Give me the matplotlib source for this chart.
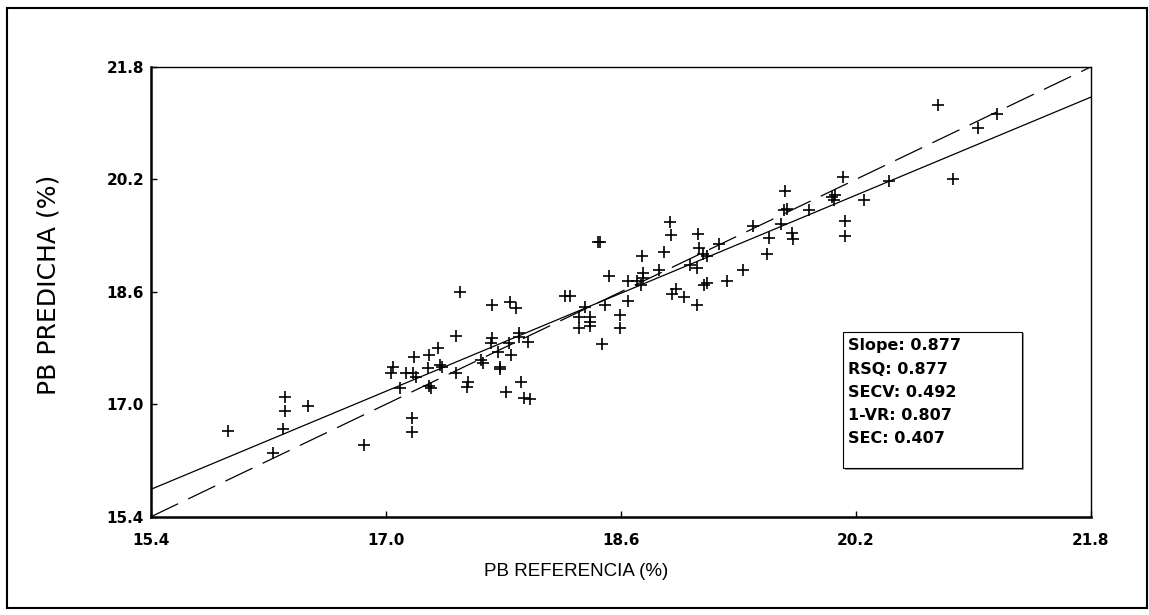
import matplotlib
matplotlib.use("Agg")
import matplotlib.pyplot as plt
from matplotlib.patches import Rectangle
import numpy as np

# values
pb_ref = [15.925, 16.314, 16.314, 16.30, 16.469, 16.23, 16.848, 17.176, 17.176, 17.046,
          17.035, 17.194, 17.292, 17.353, 17.137, 17.182, 17.206, 17.285, 17.365, 17.383,
          17.096, 17.296, 17.308, 17.478, 17.478, 17.506, 17.558, 17.551, 17.649, 17.66,
          17.721, 17.724, 17.717, 17.762, 17.779, 17.774, 17.842, 17.888, 17.837, 17.854,
          17.905, 17.905, 17.967, 17.922, 17.82, 17.938, 17.978, 18.217, 18.251, 18.315,
          18.315, 18.354, 18.388, 18.388, 18.388, 18.444, 18.461, 18.474, 18.49, 18.519,
          18.597, 18.597, 18.649, 18.649, 18.71, 18.747, 18.751, 18.751, 18.74, 18.86,
          18.892, 18.933, 18.94, 18.945, 18.974, 19.029, 19.07, 19.116, 19.116, 19.127,
          19.133, 19.157, 19.184, 19.165, 19.184, 19.27, 19.32, 19.429, 19.498, 19.597,
          19.611, 19.689, 19.718, 19.708, 19.732, 19.766, 19.775, 19.884, 20.036, 20.059,
          20.054, 20.111, 20.129, 20.129, 20.257, 20.424, 20.76, 20.859, 21.032, 21.162]
pb_pred = [16.626, 17.10, 16.91, 16.646, 16.977, 16.313, 16.423, 16.81, 16.603, 17.535,
           17.45, 17.677, 17.70, 17.796, 17.45, 17.45, 17.393, 17.512, 17.559, 17.535,
           17.228, 17.261, 17.228, 17.975, 17.45, 18.592, 17.322, 17.251, 17.63, 17.592,
           18.411, 17.938, 17.867, 17.748, 17.535, 17.498, 18.45, 18.364, 17.867, 17.70,
           18.009, 17.953, 17.89, 17.322, 17.18, 17.086, 17.072, 18.539, 18.546, 18.245,
           18.08, 18.387, 18.245, 18.174, 18.113, 19.311, 19.311, 17.853, 18.411, 18.823,
           18.269, 18.08, 18.752, 18.468, 18.752, 19.107, 18.862, 18.791, 18.695, 18.909,
           19.16, 19.595, 19.416, 18.568, 18.634, 18.529, 18.98, 18.933, 18.411, 19.43,
           19.217, 19.136, 19.107, 18.695, 18.728, 19.278, 18.757, 18.909, 19.541, 19.132,
           19.373, 19.562, 20.031, 19.768, 19.782, 19.438, 19.359, 19.771, 19.95, 19.974,
           19.903, 20.237, 19.605, 19.391, 19.903, 20.183, 21.262, 20.211, 20.93, 21.134]

line_x = [15.4, 21.8]
fit_y = [15.79, 21.37]      # regression line
ideal_y = [15.4, 21.8]      # 1:1 line

ticks = [15.4, 17.0, 18.6, 20.2, 21.8]
tick_labels = ["15.4", "17.0", "18.6", "20.2", "21.8"]
stats = ["Slope: 0.877", "RSQ: 0.877", "SECV: 0.492", "1-VR: 0.807", "SEC: 0.407"]

fig = plt.figure(figsize=(11.49, 6.15), dpi=100)
ax = fig.add_axes([0.1314, 0.1598, 0.8179, 0.7313])

# outer frame
fig.patches.append(Rectangle((0.0061, 0.012), 0.9918, 0.975, transform=fig.transFigure,
                             fill=False, edgecolor="black", linewidth=1.5))

ax.plot(line_x, fit_y, color="black", linewidth=0.9)
ax.plot(line_x, ideal_y, color="black", linewidth=0.9, dashes=(24, 9))
ax.plot(pb_ref, pb_pred, "+", color="black", markersize=8.5, markeredgewidth=1.2, linestyle="none")

ax.set_xlim(15.4, 21.8)
ax.set_ylim(15.4, 21.8)
ax.set_xticks(ticks)
ax.set_yticks(ticks)
ax.set_xticklabels(tick_labels, fontsize=11, fontweight="bold", family="DejaVu Sans")
ax.set_yticklabels(tick_labels, fontsize=11, fontweight="bold", family="DejaVu Sans")
ax.tick_params(axis="both", direction="in", length=4, width=1, colors="black")
ax.tick_params(axis="x", pad=12)
ax.tick_params(axis="y", pad=5)
for side in ["top", "right"]:
    ax.spines[side].set_linewidth(1)
for side in ["left", "bottom"]:
    ax.spines[side].set_linewidth(1.8)

fig.text(0.5013, 0.0704, "PB REFERENCIA (%)", ha="center", va="center",
         fontsize=13.5, family=["Liberation Sans", "DejaVu Sans"])
fig.text(0.042, 0.537, "PB PREDICHA (%)", ha="center", va="center", rotation=90,
         fontsize=18, family="DejaVu Sans")

# statistics box with a bevel shadow
ax.add_patch(Rectangle((0.738, 0.104), 0.1905, 0.304, transform=ax.transAxes,
                       facecolor="#9a9a9a", edgecolor="none", zorder=5))
ax.add_patch(Rectangle((0.736, 0.1076), 0.1906, 0.3038, transform=ax.transAxes,
                       facecolor="white", edgecolor="black", linewidth=0.8, zorder=6))
for i, s in enumerate(stats):
    ax.text(0.7414, 0.3796 - i * 0.0513, s, transform=ax.transAxes, ha="left", va="center",
            fontsize=11.5, fontweight="bold", family="DejaVu Sans", zorder=7)

fig.savefig("out.png", dpi=100)
